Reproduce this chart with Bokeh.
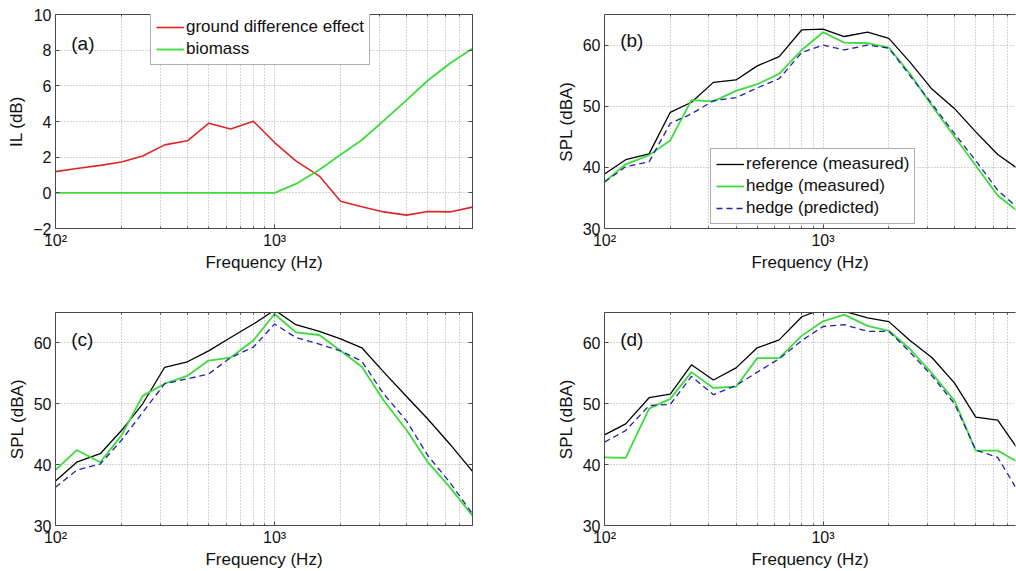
from bokeh.plotting import figure
from bokeh.layouts import column, row
from bokeh.models import LogAxis, LinearAxis, FixedTicker, Legend, LegendItem, Label, Range1d
from bokeh.embed import file_html
from bokeh.resources import INLINE

# ---------------- data ----------------
freq = [100, 125, 160, 200, 250, 315, 400, 500, 630, 800, 1000, 1250, 1600,
        2000, 2500, 3150, 4000, 5000, 6300, 8000]

a_ground = [1.19, 1.36, 1.54, 1.73, 2.07, 2.69, 2.92, 3.90, 3.58, 4.01, 2.82,
            1.79, 0.94, -0.47, -0.78, -1.07, -1.25, -1.05, -1.07, -0.80]
a_biomass = [0, 0, 0, 0, 0, 0, 0, 0, 0, 0, 0, 0.50, 1.30, 2.13, 2.96, 4.05,
             5.20, 6.30, 7.25, 8.10]

b_ref = [38.9, 41.25, 42.2, 49.0, 50.65, 53.9, 54.3, 56.6, 58.1, 62.5, 62.6,
         61.4, 62.1, 61.1, 57.2, 52.8, 49.6, 45.8, 42.1, 39.5]
b_hedge = [37.6, 40.5, 42.0, 44.4, 51.0, 50.8, 52.5, 53.6, 55.3, 59.2, 62.1,
           60.4, 60.3, 59.6, 55.3, 50.1, 45.0, 40.3, 35.4, 32.5]
b_pred = [37.6, 40.1, 40.9, 47.2, 48.75, 50.9, 51.4, 53.0, 54.5, 58.8, 60.0,
          59.2, 60.0, 59.5, 55.0, 50.4, 45.5, 41.1, 36.25, 33.0]

c_ref = [37.3, 40.4, 41.8, 45.6, 50.0, 56.0, 56.9, 58.7, 60.9, 63.1, 65.4,
         63.0, 61.9, 60.65, 59.2, 55.2, 51.2, 47.5, 43.4, 38.9]
c_hedge = [39.1, 42.4, 40.4, 44.8, 51.3, 53.3, 54.6, 57.1, 57.6, 60.4, 64.75,
           61.75, 61.3, 58.7, 56.1, 50.5, 45.7, 40.4, 36.3, 31.6]
c_pred = [36.3, 39.1, 40.1, 44.0, 48.6, 53.3, 54.1, 54.9, 57.6, 59.3, 63.1,
          60.9, 59.8, 58.7, 57.0, 51.6, 47.2, 41.5, 37.1, 31.9]

d_ref = [44.9, 46.7, 51.0, 51.6, 56.4, 53.9, 55.9, 59.2, 60.5, 64.3, 65.6,
         65.2, 64.1, 63.5, 60.4, 57.6, 53.4, 47.8, 47.3, 42.0]
d_hedge = [41.2, 41.1, 49.2, 50.8, 55.2, 52.6, 52.8, 57.5, 57.5, 61.2, 63.55,
           64.65, 62.8, 62.0, 59.0, 55.0, 50.5, 42.3, 42.3, 40.2]
d_pred = [43.7, 45.6, 49.7, 49.9, 54.5, 51.5, 53.0, 55.2, 57.4, 60.4, 62.7,
          63.0, 61.9, 61.9, 58.5, 54.6, 50.0, 42.4, 41.2, 35.0]

x_major = [100, 1000]
x_minor = [200, 300, 400, 500, 600, 700, 800, 900,
           2000, 3000, 4000, 5000, 6000, 7000, 8000]
x_labels = {100: "10\u00b2", 1000: "10\u00b3"}
ticks_a = [-2, 0, 2, 4, 6, 8, 10]
ticks_spl = [30, 40, 50, 60]

FONT = "Liberation Sans"
FRAME = "#4a4a4a"
RED = "#e02424"
GREEN = "#3cdc3c"
BLACK = "#000000"
BLUE = "#2323a6"


def make_fig(left_border, right_border, top_border, bottom_border, fw, fh,
             xend, yr, yticks, ylabel, show_right):
    p = figure(x_axis_type="log", output_backend="svg", toolbar_location=None,
               frame_width=fw, frame_height=fh,
               min_border_left=left_border, min_border_right=right_border,
               min_border_top=top_border, min_border_bottom=bottom_border,
               x_range=Range1d(100, xend), y_range=Range1d(*yr))
    p.outline_line_color = None
    p.background_fill_color = "white"
    p.border_fill_color = "white"
    xt = FixedTicker(ticks=x_major, minor_ticks=x_minor)
    yt = FixedTicker(ticks=yticks, minor_ticks=[])
    for ax in p.xaxis:
        ax.ticker = xt
        ax.major_label_overrides = x_labels
    for ax in p.yaxis:
        ax.ticker = yt
    p.xaxis.axis_label = "Frequency (Hz)"
    p.yaxis.axis_label = ylabel
    for ax in list(p.xaxis) + list(p.yaxis):
        ax.axis_label_text_font = FONT
        ax.axis_label_text_font_style = "normal"
        ax.axis_label_text_font_size = "17px"
        ax.axis_label_text_color = "#111111"
        ax.major_label_text_font = FONT
        ax.major_label_text_font_size = "16px"
        ax.major_label_text_color = "#111111"
        ax.axis_line_color = FRAME
        ax.major_tick_line_color = FRAME
        ax.minor_tick_line_color = FRAME
        ax.major_tick_in = 4
        ax.major_tick_out = 0
        ax.minor_tick_in = 2
        ax.minor_tick_out = 0
        ax.major_label_standoff = 4
        ax.axis_label_standoff = 4
    p.xaxis.axis_label_standoff = 1
    p.xaxis.major_label_standoff = 3
    # box: top (and right) axes without visible labels
    top = LogAxis(ticker=xt, major_label_text_font_size="1px",
                  major_label_text_alpha=0,
                  major_tick_in=4, major_tick_out=0, minor_tick_in=2,
                  minor_tick_out=0, axis_line_color=FRAME,
                  major_tick_line_color=FRAME, minor_tick_line_color=FRAME,
                  major_label_standoff=0)
    p.add_layout(top, "above")
    if show_right:
        rt = LinearAxis(ticker=yt, major_label_text_font_size="1px",
                        major_label_text_alpha=0,
                        major_tick_in=4, major_tick_out=0, minor_tick_in=0,
                        minor_tick_out=0, axis_line_color=FRAME,
                        major_tick_line_color=FRAME, major_label_standoff=0)
        p.add_layout(rt, "right")
    p.xgrid.ticker = xt
    p.ygrid.ticker = yt
    for g in list(p.xgrid) + list(p.ygrid):
        g.grid_line_color = "#a8a8a8"
        g.grid_line_dash = "1 2"
        g.grid_line_width = 1
    p.xgrid.minor_grid_line_color = "#a8a8a8"
    p.xgrid.minor_grid_line_dash = "1 2"
    return p


def panel_label(p, text, y):
    p.add_layout(Label(x=118, y=y, text=text, text_baseline="middle",
                       text_font=FONT, text_font_size="19px",
                       text_color="#111111"))


def style_legend(lg):
    lg.label_text_font = FONT
    lg.label_text_font_size = "17px"
    lg.label_text_color = "#111111"
    lg.border_line_color = "#606060"
    lg.border_line_width = 1
    lg.background_fill_color = "white"
    lg.background_fill_alpha = 1
    lg.padding = 5
    lg.spacing = 2
    lg.margin = 0
    lg.label_height = 18
    lg.glyph_height = 18
    lg.glyph_width = 28
    lg.label_standoff = 2


# ---- panel (a)
pa = make_fig(55, 36, 14, 60, 417, 214, 8000, (-2, 10), ticks_a, "IL (dB)", True)
ra1 = pa.line(freq, a_ground, line_color=RED, line_width=1.6)
ra2 = pa.line(freq, a_biomass, line_color=GREEN, line_width=1.8)
panel_label(pa, "(a)", 8.4)
lga = Legend(items=[LegendItem(label="ground difference effect", renderers=[ra1]),
                    LegendItem(label="biomass", renderers=[ra2])],
             location=(95, 163))
style_legend(lga)
pa.add_layout(lga, "center")

# ---- panel (b)
pb = make_fig(96, 1, 14, 60, 411, 214, 7600, (30, 65), ticks_spl, "SPL (dBA)", False)
rb1 = pb.line(freq, b_ref, line_color=BLACK, line_width=1.3)
rb2 = pb.line(freq, b_hedge, line_color=GREEN, line_width=1.8)
rb3 = pb.line(freq, b_pred, line_color=BLUE, line_width=1.3, line_dash="6 4")
panel_label(pb, "(b)", 60.7)
lgb = Legend(items=[LegendItem(label="reference (measured)", renderers=[rb1]),
                    LegendItem(label="hedge (measured)", renderers=[rb2]),
                    LegendItem(label="hedge (predicted)", renderers=[rb3])],
             location=(106, 4))
style_legend(lgb)
pb.add_layout(lgb, "center")

# ---- panel (c)
pc = make_fig(55, 36, 24, 46, 417, 213, 8000, (30, 65), ticks_spl, "SPL (dBA)", True)
pc.line(freq, c_ref, line_color=BLACK, line_width=1.3)
pc.line(freq, c_hedge, line_color=GREEN, line_width=1.8)
pc.line(freq, c_pred, line_color=BLUE, line_width=1.3, line_dash="6 4")
panel_label(pc, "(c)", 60.5)

# ---- panel (d)
pd_ = make_fig(96, 1, 24, 46, 411, 213, 7600, (30, 65), ticks_spl, "SPL (dBA)", False)
pd_.line(freq, d_ref, line_color=BLACK, line_width=1.3)
pd_.line(freq, d_hedge, line_color=GREEN, line_width=1.8)
pd_.line(freq, d_pred, line_color=BLUE, line_width=1.3, line_dash="6 4")
panel_label(pd_, "(d)", 60.5)

layout = column(row(pa, pb, spacing=0), row(pc, pd_, spacing=0), spacing=0)

open("out.html", "w").write(file_html(layout, INLINE))
